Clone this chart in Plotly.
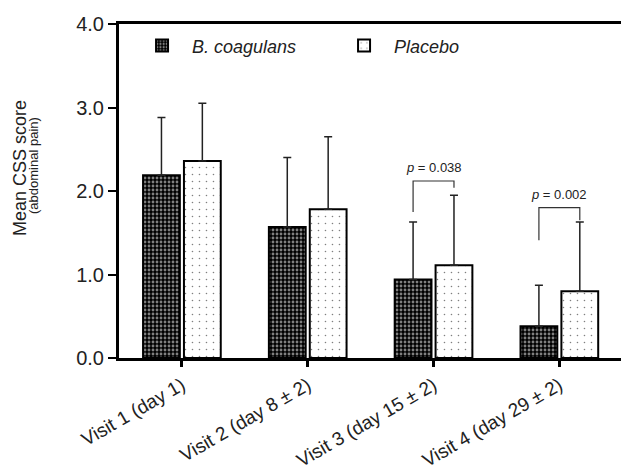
import plotly.graph_objects as go

categories = ["Visit 1 (day 1)", "Visit 2 (day 8 ± 2)", "Visit 3 (day 15 ± 2)", "Visit 4 (day 29 ± 2)"]
bc_mean = [2.19, 1.57, 0.94, 0.38]
bc_sd = [0.69, 0.83, 0.69, 0.49]
pl_mean = [2.36, 1.78, 1.11, 0.80]
pl_sd = [0.69, 0.87, 0.84, 0.83]
y_ticks = [0, 1, 2, 3, 4]
y_ticklabels = ["0.0", "1.0", "2.0", "3.0", "4.0"]

# significance brackets
sig_groups = [2, 3]
sig_labels = ["<i>p</i> = 0.038", "<i>p</i> = 0.002"]
sig_top = [2.12, 1.80]
sig_left_end = [1.75, 1.41]
sig_right_end = [2.04, 1.65]

FONT = "Liberation Sans, Arial, sans-serif"
W, H = 621, 470
ML, MR, MT, MB = 119, 0, 24, 112

fig = go.Figure()
fig.add_trace(go.Bar(
    name="B. coagulans", x=categories, y=bc_mean,
    marker=dict(color="black", line=dict(color="black", width=2),
                pattern=dict(shape=".", bgcolor="black", fgcolor="white", size=4, solidity=0.4)),
    error_y=dict(type="data", array=bc_sd, arrayminus=[0] * len(bc_sd), symmetric=False,
                 color="#222", thickness=1.5, width=4),
))
fig.add_trace(go.Bar(
    name="Placebo", x=categories, y=pl_mean,
    marker=dict(color="white", line=dict(color="black", width=2),
                pattern=dict(shape=".", bgcolor="white", fgcolor="black", size=7, solidity=0.04)),
    error_y=dict(type="data", array=pl_sd, arrayminus=[0] * len(pl_sd), symmetric=False,
                 color="#222", thickness=1.5, width=4),
))

bargap, groupgap = 0.35, 0.1
off = (1 - bargap) / 4
for g, lab, top, le, re in zip(sig_groups, sig_labels, sig_top, sig_left_end, sig_right_end):
    fig.add_shape(type="path", xref="x", yref="y",
                  path=f"M {g-off},{le} L {g-off},{top} L {g+off},{top} L {g+off},{re}",
                  line=dict(color="#333", width=1.2))
    fig.add_annotation(x=g, y=top, xref="x", yref="y", text=lab, showarrow=False,
                       yanchor="bottom", yshift=4, font=dict(size=13, color="#222", family=FONT))

pw, ph = W - ML - MR, H - MT - MB
def px2paper(x, y):
    return (x - ML) / pw, (H - MB - y) / ph

ax, ay = px2paper(20, 168)
fig.add_annotation(x=ax, y=ay, xref="paper", yref="paper", text="Mean CSS score", textangle=-90,
                   xanchor="center", yanchor="middle",
                   showarrow=False, font=dict(size=18, color="#222", family=FONT))
ax, ay = px2paper(33, 166)
fig.add_annotation(x=ax, y=ay, xref="paper", yref="paper", text="(abdominal pain)", textangle=-90,
                   xanchor="center", yanchor="middle",
                   showarrow=False, font=dict(size=13, color="#222", family=FONT))

fig.update_layout(
    width=W, height=H, margin=dict(l=ML, r=MR, t=MT, b=MB, autoexpand=False),
    paper_bgcolor="white", plot_bgcolor="white",
    barmode="group", bargap=bargap, bargroupgap=groupgap,
    font=dict(family=FONT, color="#222", size=18),
    showlegend=True,
    legend=dict(orientation="h", x=0.026, y=0.99, xanchor="left", yanchor="top",
                font=dict(size=18, style="italic", family=FONT), bgcolor="rgba(0,0,0,0)",
                itemwidth=50, entrywidth=137),
)
fig.update_xaxes(range=[-0.5, 3.49], showline=True, linecolor="black", linewidth=3, mirror=True,
                 ticks="outside", ticklen=6, tickwidth=3, tickcolor="black", tickangle=-30,
                 tickfont=dict(size=19, family=FONT, color="#222"), showgrid=False, automargin=False)
fig.update_yaxes(range=[0, 4], tickvals=y_ticks, ticktext=y_ticklabels, showline=True,
                 linecolor="black", linewidth=3, ticks="outside", ticklen=8, tickwidth=2,
                 tickcolor="black", tickfont=dict(size=20, family=FONT, color="#222"),
                 showgrid=False, zeroline=False, automargin=False)

fig.write_html("out.html", config={"displayModeBar": False},
               post_script="document.body.style.margin='0';document.body.style.overflow='hidden';")
